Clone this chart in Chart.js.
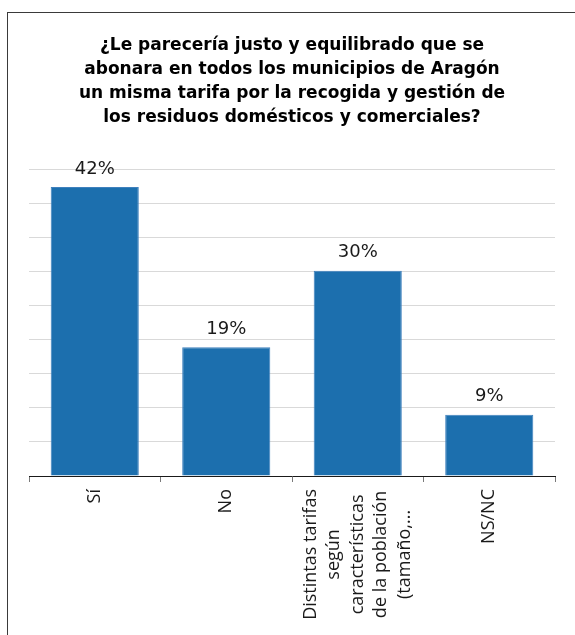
<!DOCTYPE html>
<html lang="es">
<head>
    <meta charset="UTF-8">
    <title>Tarifa de residuos en Aragón</title>
    <script src="https://cdn.jsdelivr.net/npm/chart.js"></script>
    <style>
        html, body { margin: 0; padding: 0; background: #fff; }
        #wrap { position: relative; width: 575px; height: 635px; overflow: hidden; }
        #frame { position: absolute; left: 7px; top: 12px; width: 600px; height: 660px; border-left: 1px solid #3a3a3a; border-top: 1px solid #3a3a3a; }
        canvas { position: absolute; left: 0; top: 0; }
    </style>
</head>
<body>
    <div id="wrap">
        <div id="frame"></div>
        <canvas id="chart" width="575" height="635"></canvas>
    </div>

    <script>
        const titleLines = [
            '¿Le parecería justo y equilibrado que se',
            'abonara en todos los municipios de Aragón',
            'un misma tarifa por la recogida y gestión de',
            'los residuos domésticos y comerciales?'
        ];
        const categories = [
            ['Sí'],
            ['No'],
            ['Distintas tarifas', 'según', 'características', 'de la población', '(tamaño,...'],
            ['NS/NC']
        ];
        const values = [42.4, 18.9, 30.1, 9.0];
        const valueLabels = ['42%', '19%', '30%', '9%'];

        const labelFont = '18px "Open Sans"';
        const labelLineHeight = 23.5;

        // value labels above the bars
        const barLabels = {
            id: 'barLabels',
            afterDatasetsDraw(chart) {
                const ctx = chart.ctx;
                const bars = chart.getDatasetMeta(0).data;
                ctx.save();
                ctx.font = '18px "DejaVu Sans"';
                ctx.fillStyle = '#1a1a1a';
                ctx.textAlign = 'center';
                ctx.textBaseline = 'middle';
                bars.forEach((bar, i) => {
                    ctx.fillText(valueLabels[i], bar.x, bar.y - 18);
                });
                ctx.restore();
            }
        };

        // rotated category labels, lines centred in a block that ends at the axis
        const categoryLabels = {
            id: 'categoryLabels',
            afterDraw(chart) {
                const ctx = chart.ctx;
                const xScale = chart.scales.x;
                const top = xScale.top + 13;
                ctx.save();
                ctx.font = labelFont;
                ctx.fillStyle = '#1a1a1a';
                ctx.textAlign = 'center';
                ctx.textBaseline = 'middle';
                categories.forEach((lines, i) => {
                    const cx = xScale.getPixelForTick(i);
                    const blockW = Math.max(...lines.map(l => ctx.measureText(l).width));
                    ctx.save();
                    ctx.translate(cx, top + blockW / 2);
                    ctx.rotate(-Math.PI / 2);
                    lines.forEach((line, j) => {
                        ctx.fillText(line, 0, (j - (lines.length - 1) / 2) * labelLineHeight);
                    });
                    ctx.restore();
                });
                ctx.restore();
            }
        };

        new Chart(document.getElementById('chart'), {
            type: 'bar',
            data: {
                labels: categories.map(c => c.join(' ')),
                datasets: [{
                    data: values,
                    backgroundColor: '#1c6fae',
                    borderColor: '#3f80bd',
                    borderWidth: 1,
                    barPercentage: 0.67,
                    categoryPercentage: 1
                }]
            },
            options: {
                responsive: false,
                animation: false,
                layout: { padding: { left: 29, right: 20, top: 0, bottom: 0 } },
                plugins: {
                    legend: { display: false },
                    tooltip: { enabled: false },
                    title: {
                        display: true,
                        text: titleLines,
                        color: '#000',
                        font: { family: 'DejaVu Sans', size: 17, weight: 'bold', lineHeight: 1.4 },
                        padding: { top: 34, bottom: 40 }
                    }
                },
                scales: {
                    x: {
                        afterFit: s => { s.height = 159; },
                        ticks: { display: false },
                        grid: { offset: true, drawOnChartArea: false, drawTicks: true, tickLength: 6, color: '#7a7a7a' },
                        border: { display: true, color: '#1a1a1a', width: 1 }
                    },
                    y: {
                        min: 0,
                        max: 45,
                        afterFit: s => { s.width = 0; },
                        ticks: { display: false, stepSize: 5 },
                        grid: {
                            drawTicks: false,
                            color: c => c.tick.value === 0 ? 'rgba(0,0,0,0)' : '#d9d9d9'
                        },
                        border: { display: false }
                    }
                }
            },
            plugins: [barLabels, categoryLabels]
        });
    </script>
</body>
</html>
